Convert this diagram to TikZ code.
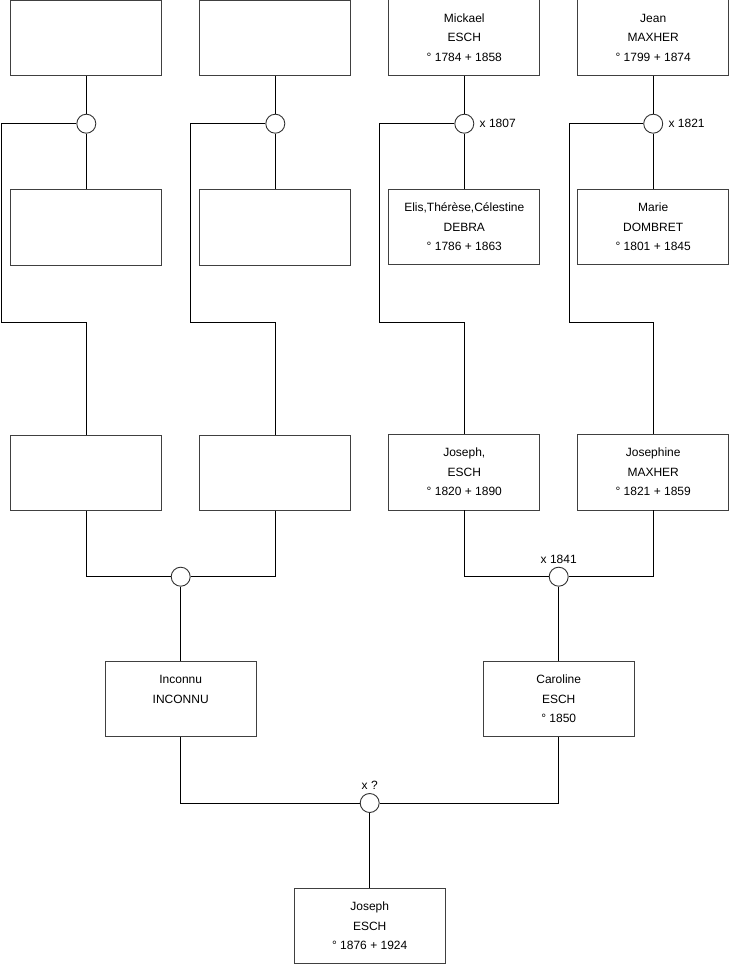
\documentclass[tikz,border=0pt]{standalone}
\usepackage{fontspec}
\setmainfont{Liberation Sans}

\begin{document}
\begin{tikzpicture}[x=1pt, y=-1pt, line width=0.9pt,
  pers/.style={draw=black!75, rectangle, minimum width=151pt, minimum height=75.5pt, align=center, font=\fontsize{12}{19.5}\selectfont, inner sep=0pt},
  mar/.style={draw=black!80, circle, fill=white, minimum size=19pt, inner sep=0pt},
  yr/.style={font=\fontsize{12}{13}\selectfont, inner sep=1pt}]
\useasboundingbox (0,0) rectangle (740,975);
% generation 1
\node[pers] (p1) at (86.3,38) {};
\node[pers] (p2) at (275.3,38) {};
\node[pers] (p3) at (464.3,37.5) {Mickael\\ESCH\\° 1784 + 1858};
\node[pers] (p4) at (653.2,37.5) {Jean\\MAXHER\\° 1799 + 1874};
% weddings
\node[mar] (w1) at (86.3,123.7) {};
\node[mar] (w2) at (275.3,123.7) {};
\node[mar] (w3) at (464.3,123.7) {};
\node[mar] (w4) at (653.2,123.7) {};
\node[yr, anchor=west] (y3) at (w3.east) [xshift=4pt] {x 1807};
\node[yr, anchor=west] (y4) at (w4.east) [xshift=4pt] {x 1821};
% spouses
\node[pers] (s1) at (86.3,227.5) {};
\node[pers] (s2) at (275.3,227.5) {};
\node[pers] (s3) at (464.3,227) {Elis,Thérèse,Célestine\\DEBRA\\° 1786 + 1863};
\node[pers] (s4) at (653.2,227) {Marie\\DOMBRET\\° 1801 + 1845};
% generation 2
\node[pers] (c1) at (86.3,472.7) {};
\node[pers] (c2) at (275.3,472.7) {};
\node[pers] (c3) at (464.3,472.2) {Joseph,\\ESCH\\° 1820 + 1890};
\node[pers] (c4) at (653.2,472.2) {Josephine\\MAXHER\\° 1821 + 1859};
\node[mar] (m1) at (180.7,576.7) {};
\node[mar] (m2) at (558.7,576.7) {};
\node[yr, anchor=south] (y5) at (m2.north) [yshift=2pt] {x 1841};
% generation 3
\node[pers] (g1) at (180.7,699) {Inconnu\\INCONNU\\~};
\node[pers] (g2) at (558.7,699) {Caroline\\ESCH\\° 1850};
\node[mar] (m3) at (369.7,803) {};
\node[yr, anchor=south] (y6) at (m3.north) [yshift=2pt] {x ?};
\node[pers] (last) at (369.7,925.8) {Joseph\\ESCH\\° 1876 + 1924};
% side lines
\coordinate (l1) at (1.7,123.7);   \coordinate (l1b) at (1.7,322);
\coordinate (l2) at (190.7,123.7); \coordinate (l2b) at (190.7,322);
\coordinate (l3) at (379.3,123.7); \coordinate (l3b) at (379.3,322);
\coordinate (l4) at (569,123.7);   \coordinate (l4b) at (569,322);
% connectors
\draw (p1) -- (w1) -- (s1);
\draw (p2) -- (w2) -- (s2);
\draw (p3) -- (w3) -- (s3);
\draw (p4) -- (w4) -- (s4);
\draw (w1.west) -- (l1) -- (l1b) -| (c1.north);
\draw (w2.west) -- (l2) -- (l2b) -| (c2.north);
\draw (w3.west) -- (l3) -- (l3b) -| (c3.north);
\draw (w4.west) -- (l4) -- (l4b) -| (c4.north);
\draw (c1.south) |- (m1.west);
\draw (c2.south) |- (m1.east);
\draw (c3.south) |- (m2.west);
\draw (c4.south) |- (m2.east);
\draw (m1) -- (g1);
\draw (m2) -- (g2);
\draw (g1.south) |- (m3.west);
\draw (g2.south) |- (m3.east);
\draw (m3) -- (last);
\end{tikzpicture}
\end{document}
